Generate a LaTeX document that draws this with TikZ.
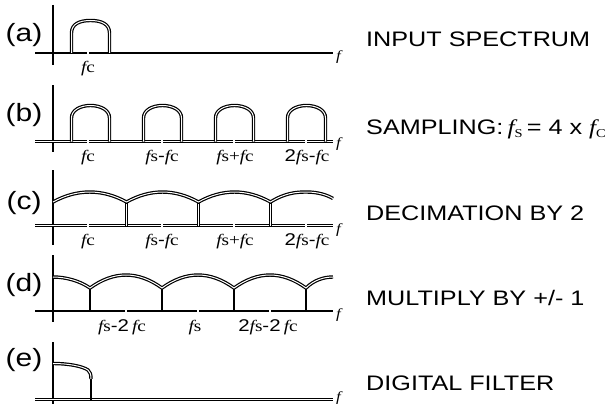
\documentclass[tikz,border=0pt]{standalone}
\usepackage{fontspec}
\usepackage{graphicx}
\setmainfont{Liberation Sans}
\newfontfamily\srf{Liberation Serif}
\newcommand\sx[1]{\scalebox{1.2}[1]{#1}}
\newcommand\F{{\itshape f}}
\newcommand\SN[1]{{\normalfont\fontsize{17}{17}\selectfont #1}}
\begin{document}
\begin{tikzpicture}[x=1pt,y=-1pt,
  ax/.style={line width=2.2pt},
  dbl/.style={draw=black,line width=1.2pt,double=white,double distance=1pt},
  tickw/.style={white,line width=1.3pt},
  flab/.style={font=\srf\fontsize{16}{16}\selectfont,anchor=base,inner sep=0pt},
  fend/.style={font=\srf\itshape\fontsize{14}{14}\selectfont,anchor=west,inner sep=0pt},
  plab/.style={font=\fontsize{25}{25}\selectfont,inner sep=0pt},
  rlab/.style={font=\fontsize{21}{21}\selectfont,anchor=base west,inner sep=0pt}]
\useasboundingbox (0,0) rectangle (607,404);

% ---------- (a)
\node[plab] (pa) at (24,35) {\sx{(a)}};
\draw[ax] (53,5) -- (53,65);
\draw[ax] (35,53) -- (333,53);
\draw[dbl] (71.5,53) -- (71.5,33) .. controls (71.5,24) and (79.5,20.5) .. (90.5,20.5) .. controls (101.5,20.5) and (109.5,24) .. (109.5,33) -- (109.5,53);
\draw[tickw] (88,52) -- (88,55);
\node[fend] (fa) at (336,57) {\sx{f}};
\node[flab] (la1) at (88,72) {\sx{\F c}};
\node[rlab] (ta) at (366,47) {\sx{INPUT SPECTRUM}};

% ---------- (b)
\node[plab] (pb) at (24,115) {\sx{(b)}};
\draw[ax] (53,85) -- (53,152);
\draw[dbl] (35,141.5) -- (333,141.5);
\foreach \c in {90.5,162.5,234.5,306.5}{
  \draw[dbl] (\c-19,141.5) -- (\c-19,118) .. controls (\c-19,110) and (\c-10,105.5) .. (\c,105.5) .. controls (\c+10,105.5) and (\c+19,110) .. (\c+19,118) -- (\c+19,141.5);
}
\foreach \q in {88,162,234,306}{\draw[tickw] (\q,139.5) -- (\q,143.5);}
\node[fend] (fb) at (336,144) {\sx{f}};
\node[flab] (lb1) at (88,161) {\sx{\F c}};
\node[flab] (lb2) at (162,161) {\sx{\F s\SN{-}\F c}};
\node[flab] (lb3) at (235,161) {\sx{\F s+\F c}};
\node[flab] (lb4) at (307,161) {\sx{\SN{2}\F s\SN{-}\F c}};
\node[rlab] (tb) at (366,134) {\sx{SAMPLING:\,{\srf\itshape f}\raisebox{-3pt}{\srf\fontsize{12}{12}\selectfont S}\,= 4 x {\srf\itshape f}\raisebox{-3pt}{\srf\fontsize{12}{12}\selectfont C}}};

% ---------- (c)
\node[plab] (pc) at (24,203) {\sx{(c)}};
\draw[ax] (53,170) -- (53,245);
\draw[dbl] (35,225.5) -- (333,225.5);
\foreach \v in {126.5,198.5,270.5}{\draw[dbl] (\v,202) -- (\v,225.5);}
\draw[dbl] (53,202) .. controls (77,188.7) and (102.5,188.7) .. (126.5,202)
  .. controls (150.5,188.7) and (174.5,188.7) .. (198.5,202)
  .. controls (222.5,188.7) and (246.5,188.7) .. (270.5,202)
  .. controls (285,193) and (296,192) .. (306.5,192)
  .. controls (318,192) and (327,195) .. (333,198.5);
\foreach \q in {88,162,234,306}{\draw[tickw] (\q,223.5) -- (\q,227.5);}
\node[fend] (fc) at (336,230) {\sx{f}};
\node[flab] (lc1) at (88,245) {\sx{\F c}};
\node[flab] (lc2) at (162,245) {\sx{\F s\SN{-}\F c}};
\node[flab] (lc3) at (235,245) {\sx{\F s+\F c}};
\node[flab] (lc4) at (307,245) {\sx{\SN{2}\F s\SN{-}\F c}};
\node[rlab] (tc) at (366,220) {\sx{DECIMATION BY 2}};

% ---------- (d)
\node[plab] (pd) at (24,285) {\sx{(d)}};
\draw[ax] (53,255) -- (53,322);
\draw[ax] (35,311) -- (333,311);
\foreach \v in {90,162,234,306}{\draw[ax] (\v,288) -- (\v,311);}
\draw[dbl] (53,277) .. controls (66,277) and (80,281) .. (90,288)
  .. controls (114,270.7) and (138,270.7) .. (162,288)
  .. controls (186,270.7) and (210,270.7) .. (234,288)
  .. controls (258,270.7) and (282,270.7) .. (306,288)
  .. controls (314,280) and (324,277) .. (333,277);
\foreach \q in {126,198,270}{\draw[tickw] (\q,309) -- (\q,313);}
\node[fend] (fd) at (336,315) {\sx{f}};
\node[flab] (ld1) at (122,331) {\sx{\F s\SN{-2}\,\F c}};
\node[flab] (ld2) at (195,331) {\sx{\F s}};
\node[flab] (ld3) at (268,331) {\sx{\SN{2}\F s\SN{-2}\,\F c}};
\node[rlab] (td) at (366,305) {\sx{MULTIPLY BY +/- 1}};

% ---------- (e)
\node[plab] (pe) at (24,360) {\sx{(e)}};
\draw[ax] (53,342) -- (53,404);
\draw[dbl] (35,399.5) -- (333,399.5);
\draw[ax] (91,377) -- (91,399.5);
\draw[dbl] (53,363.5) .. controls (68,363.5) and (82,366) .. (88,370) .. controls (90,372) and (91,374) .. (91,379);
\node[fend] (fe) at (336,398) {\sx{f}};
\node[rlab] (te) at (366,390) {\sx{DIGITAL FILTER}};
\end{tikzpicture}
\end{document}
